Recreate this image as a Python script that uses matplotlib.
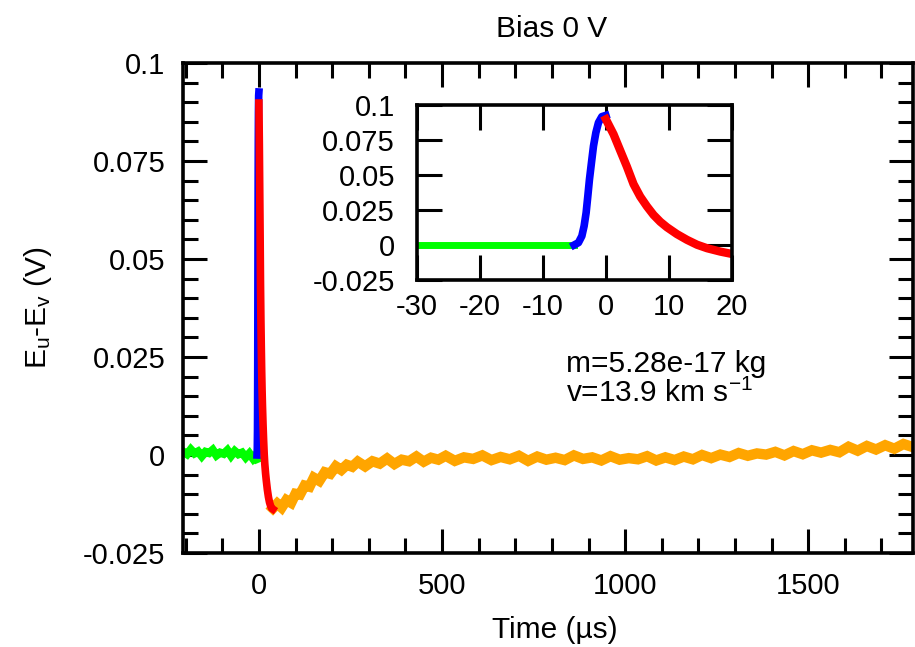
import matplotlib
matplotlib.use("Agg")
import matplotlib.pyplot as plt
from matplotlib.ticker import MultipleLocator, FixedLocator, FixedFormatter

plt.rcParams['font.family'] = ['Liberation Sans', 'DejaVu Sans']
plt.rcParams['axes.unicode_minus'] = False
plt.rcParams['mathtext.default'] = 'regular'

# baseline before the impact (noisy raw signal)
green_t = [-206, -196, -186, -176, -166, -156, -146, -136, -126, -116, -106,
           -96, -86, -76, -66, -56, -46, -36, -26, -16, -9, -5]
green_v = [0.0008, 0.0002, 0.0014, 0.0004, 0.0009, -0.0003, 0.0008, 0.0005,
           0.0013, -0.0001, 0.0006, 0.0003, 0.0012, -0.0002, 0.0010, 0.0002,
           0.0006, -0.0006, 0.0004, -0.0009, -0.0001, -0.0010]

# baseline fit shown in the inset
fit0_t = [-30, -5.05]
fit0_v = [0.0, 0.0]

# rising edge
blue_t = [-5.05, -4.36, -3.82, -3.46, -3.14, -2.87, -2.61, -2.29, -1.97,
          -1.59, -1.18, -0.64, 0.0]
blue_v = [0.0, 0.0017, 0.0064, 0.0136, 0.0231, 0.035, 0.0469, 0.0589, 0.0707,
          0.0803, 0.0874, 0.0917, 0.0926]

# decay
red_t = [0.0, 1.22, 2.28, 3.34, 4.40, 5.46, 6.53, 7.58, 8.65, 9.71, 11.3,
         12.9, 14.5, 16.1, 18.2, 20.06, 23, 26, 29, 32, 35, 38]
red_v = [0.0898, 0.0791, 0.0675, 0.0560, 0.0435, 0.0346, 0.0276, 0.0215,
         0.0166, 0.0127, 0.0078, 0.0037, 0.0002, -0.0023, -0.0047, -0.0064,
         -0.0088, -0.0107, -0.0121, -0.0130, -0.0136, -0.0138]

# recovery (raw signal after the pulse)
orange_t = [38, 50, 62, 75, 88, 100, 112, 125, 138, 150, 165, 180, 195, 210,
            225, 240, 255, 270, 290, 310, 330, 350, 370, 390, 410, 430, 450,
            470, 490, 510, 535, 560, 585, 610, 635, 660, 685, 710, 735, 760,
            785, 810, 835, 860, 885, 910, 935, 960, 985, 1010, 1035, 1060,
            1085, 1110, 1135, 1160, 1185, 1210, 1235, 1260, 1285, 1310, 1335,
            1360, 1385, 1410, 1435, 1460, 1485, 1510, 1535, 1560, 1585, 1610,
            1635, 1660, 1685, 1710, 1735, 1760, 1786]
orange_v = [-0.0136, -0.0124, -0.0134, -0.0115, -0.0122, -0.0099, -0.0101,
            -0.0078, -0.0081, -0.0058, -0.0066, -0.0044, -0.0048, -0.0029,
            -0.0038, -0.0025, -0.0030, -0.0017, -0.0029, -0.0016, -0.0022,
            -0.0009, -0.0023, -0.0012, -0.0016, -0.0004, -0.0017, -0.0007,
            -0.0012, -0.0002, -0.0015, -0.0006, -0.0010, -0.0001, -0.0013,
            -0.0005, -0.0011, -0.0002, -0.0015, -0.0004, -0.0012, -0.0007,
            -0.0013, -0.0001, -0.0010, -0.0006, -0.0014, -0.0003, -0.0012,
            -0.0008, -0.0011, -0.0003, -0.0014, -0.0006, -0.0013, -0.0004,
            -0.0011, 0.0000, -0.0008, 0.0001, -0.0005, 0.0005, -0.0002,
            0.0004, 0.0001, 0.0008, -0.0001, 0.0010, 0.0002, 0.0012, 0.0006,
            0.0013, 0.0007, 0.0021, 0.0011, 0.0023, 0.0014, 0.0025, 0.0016,
            0.0028, 0.0020]

y_ticks = [-0.025, 0, 0.025, 0.05, 0.075, 0.1]
y_labels = ['-0.025', '0', '0.025', '0.05', '0.075', '0.1']
inset_x_ticks = [-30, -20, -10, 0, 10, 20]
inset_x_labels = ['-30', '-20', '-10', '0', '10', '20']

fig = plt.figure(figsize=(9.15, 6.47), dpi=100)

# ===== main plot =====
ax = fig.add_axes([0.2005, 0.1453, 0.7973, 0.7573])
ax.plot(green_t, green_v, color='#00ff00', lw=6, solid_joinstyle='miter')
ax.plot(orange_t, orange_v, color='#ffa500', lw=7.5, solid_joinstyle='miter')
ax.plot(blue_t, blue_v, color='#0000ff', lw=5.5)
ax.plot(red_t, red_v, color='#ff0000', lw=5.5)

ax.set_xlim(-206, 1786)
ax.set_ylim(-0.025, 0.1)
ax.xaxis.set_major_locator(MultipleLocator(500))
ax.xaxis.set_minor_locator(MultipleLocator(100))
ax.yaxis.set_major_locator(FixedLocator(y_ticks))
ax.yaxis.set_major_formatter(FixedFormatter(y_labels))
ax.yaxis.set_minor_locator(MultipleLocator(0.005))
ax.tick_params(which='both', direction='in', top=True, right=True, width=2.2,
               labelsize=21)
ax.tick_params(which='major', length=17)
ax.tick_params(which='minor', length=11)
ax.tick_params(axis='x', which='major', pad=14)
ax.tick_params(axis='y', which='major', pad=13)
for s in ax.spines.values():
    s.set_linewidth(2.6)

fig.text(0.603, 0.943, 'Bias 0 V', ha='center', va='baseline', fontsize=21.5)
fig.text(0.6066, 0.014, 'Time (\u00b5s)', ha='center', va='baseline',
         fontsize=21.5)
fig.text(0.042, 0.524, 'E$_{u}$-E$_{v}$ (V)', ha='center', va='center',
         rotation=90, fontsize=21.5)
fig.text(0.6186, 0.425, 'm=5.28e-17 kg', ha='left', va='baseline',
         fontsize=21.5)
fig.text(0.6186, 0.379, 'v=13.9 km s$^{-1}$', ha='left', va='baseline',
         fontsize=21.5)

# ===== inset =====
axi = fig.add_axes([0.456, 0.5672, 0.3436, 0.2705])
axi.plot(fit0_t, fit0_v, color='#00ff00', lw=5)
axi.plot(blue_t, blue_v, color='#0000ff', lw=5.5)
axi.plot(red_t, red_v, color='#ff0000', lw=6)
axi.set_xlim(-30, 20)
axi.set_ylim(-0.025, 0.1)
axi.xaxis.set_major_locator(FixedLocator(inset_x_ticks))
axi.xaxis.set_major_formatter(FixedFormatter(inset_x_labels))
axi.yaxis.set_major_locator(FixedLocator(y_ticks))
axi.yaxis.set_major_formatter(FixedFormatter(y_labels))
axi.tick_params(which='major', direction='in', top=True, right=True,
                width=2.2, length=18, labelsize=21)
axi.tick_params(axis='x', pad=9)
axi.tick_params(axis='y', pad=16)
for s in axi.spines.values():
    s.set_linewidth(2.6)

fig.savefig('out.png', dpi=100)
